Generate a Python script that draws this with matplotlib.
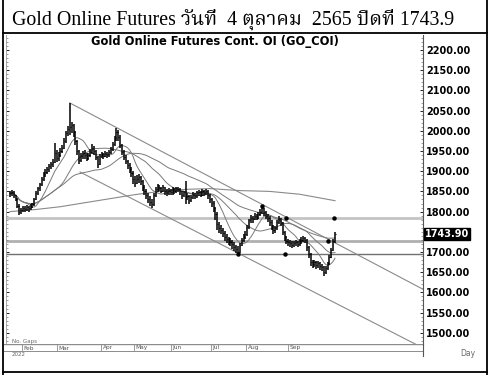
import matplotlib
matplotlib.use("Agg")
import numpy as np
import pandas as pd
import matplotlib.pyplot as plt
from matplotlib import font_manager
from matplotlib.lines import Line2D

# ---------------------------------------------------------------------------
# data (one bar per trading day, Jan 21 .. Oct 4 2022)
# ---------------------------------------------------------------------------
closes = [
    1845, 1848, 1840, 1832, 1815, 1798, 1805, 1810, 1806, 1812,
    1808, 1812, 1818, 1830, 1846, 1858, 1868, 1880, 1892, 1898,
    1905, 1912, 1918, 1924, 1945, 1932, 1940, 1950, 1958, 1975,
    1995, 2005, 2010, 2015, 1998, 1975, 1950, 1928, 1938, 1945,
    1940, 1932, 1940, 1948, 1958, 1950, 1935, 1918, 1938, 1942,
    1938, 1945, 1940, 1948, 1955, 1968, 1982, 1998, 1985, 1965,
    1948, 1935, 1925, 1915, 1905, 1895, 1880, 1872, 1880, 1885,
    1875, 1862, 1852, 1840, 1832, 1825, 1818, 1840, 1855, 1862,
    1858, 1852, 1860, 1850, 1845, 1852, 1848, 1855, 1850, 1858,
    1855, 1850, 1840, 1848, 1835, 1838, 1828, 1835, 1842, 1838,
    1845, 1848, 1842, 1850, 1846, 1852, 1840, 1830, 1822, 1810,
    1795, 1770, 1760, 1755, 1748, 1738, 1732, 1728, 1725, 1720,
    1712, 1708, 1700, 1718, 1730, 1738, 1745, 1762, 1778, 1785,
    1782, 1790, 1785, 1795, 1800, 1808, 1798, 1790, 1785, 1775,
    1765, 1755, 1760, 1775, 1782, 1772, 1750, 1738, 1728, 1725,
    1722, 1718, 1722, 1725, 1720, 1726, 1730, 1735, 1730, 1712,
    1695, 1675, 1670, 1675, 1668, 1672, 1665, 1662, 1650, 1660,
    1672, 1688, 1705, 1728, 1743.9,
]
lows = [
    1836, 1838, 1834, 1826, 1808, 1792, 1794, 1800, 1798, 1802,
    1800, 1804, 1808, 1815, 1828, 1842, 1852, 1864, 1876, 1886,
    1892, 1898, 1905, 1910, 1920, 1922, 1926, 1935, 1944, 1955,
    1970, 1988, 1990, 1995, 1985, 1965, 1940, 1918, 1922, 1930,
    1930, 1925, 1928, 1935, 1942, 1940, 1928, 1908, 1915, 1932,
    1930, 1934, 1932, 1936, 1942, 1950, 1962, 1975, 1975, 1958,
    1940, 1928, 1918, 1906, 1895, 1885, 1868, 1862, 1868, 1872,
    1866, 1852, 1842, 1830, 1822, 1815, 1808, 1815, 1835, 1848,
    1850, 1845, 1848, 1842, 1838, 1840, 1840, 1842, 1843, 1845,
    1848, 1842, 1832, 1835, 1818, 1828, 1820, 1824, 1830, 1830,
    1834, 1838, 1835, 1838, 1838, 1840, 1832, 1822, 1812, 1800,
    1780, 1755, 1748, 1745, 1738, 1728, 1722, 1718, 1715, 1708,
    1702, 1698, 1690, 1698, 1715, 1725, 1732, 1740, 1758, 1772,
    1772, 1778, 1778, 1782, 1790, 1795, 1790, 1782, 1775, 1765,
    1755, 1745, 1748, 1755, 1770, 1765, 1742, 1728, 1720, 1715,
    1712, 1710, 1712, 1716, 1712, 1715, 1720, 1724, 1722, 1702,
    1685, 1665, 1660, 1663, 1658, 1660, 1655, 1652, 1641, 1645,
    1655, 1668, 1685, 1702, 1722,
]
highs = [
    1852, 1854, 1850, 1842, 1834, 1818, 1810, 1815, 1814, 1816,
    1815, 1818, 1822, 1834, 1850, 1862, 1872, 1886, 1898, 1905,
    1910, 1918, 1922, 1930, 1970, 1952, 1948, 1958, 1965, 1982,
    2000, 2012, 2069, 2022, 2018, 2000, 1978, 1952, 1945, 1950,
    1952, 1945, 1946, 1955, 1968, 1962, 1952, 1938, 1942, 1948,
    1946, 1950, 1948, 1952, 1960, 1972, 1988, 2007, 2002, 1990,
    1968, 1952, 1940, 1928, 1920, 1910, 1900, 1888, 1890, 1892,
    1888, 1878, 1866, 1856, 1845, 1838, 1830, 1845, 1860, 1868,
    1866, 1862, 1865, 1862, 1855, 1858, 1856, 1860, 1858, 1862,
    1862, 1858, 1852, 1852, 1875, 1845, 1840, 1840, 1848, 1846,
    1850, 1854, 1852, 1855, 1854, 1856, 1854, 1844, 1834, 1826,
    1812, 1798, 1775, 1766, 1760, 1752, 1745, 1738, 1735, 1730,
    1724, 1718, 1715, 1722, 1735, 1745, 1752, 1768, 1782, 1792,
    1790, 1796, 1794, 1800, 1806, 1813, 1810, 1802, 1795, 1788,
    1778, 1768, 1765, 1780, 1788, 1785, 1775, 1752, 1740, 1732,
    1730, 1726, 1728, 1730, 1728, 1732, 1736, 1740, 1738, 1732,
    1715, 1698, 1680, 1680, 1678, 1678, 1675, 1670, 1666, 1665,
    1676, 1692, 1710, 1732, 1750,
]

# long moving average as drawn on the chart (bar index, price)
ma200_idx = [0, 13.4, 26.8, 40.1, 53.5, 66.9, 80.3, 93.7, 107, 123, 139, 155, 174]
ma200_val = [1800, 1805, 1812, 1822, 1832, 1842, 1850, 1855, 1857, 1852, 1850, 1843, 1827]

# channel lines (bar index, price) end points
upper_x = [32, 221]
upper_y = [2069, 1608]
lower_x = [37.5, 217]
lower_y = [1898, 1472]

# support / resistance levels
levels = [1783, 1728, 1695]
level_colors = ["#c4c4c4", "#b0b0b0", "#707070"]
level_widths = [2.0, 2.0, 1.0]

# pivot dots
dot_x = [135, 147.8, 173.4, 170, 147, 122]
dot_y = [1815, 1783, 1783, 1728, 1695, 1695]

months = ["Feb", "Mar", "Apr", "May", "Jun", "Jul", "Aug", "Sep"]
month_idx = [6.3, 25.3, 48.7, 66.5, 86.2, 107.6, 126.5, 149]

price_ticks = [1500, 1550, 1600, 1650, 1700, 1800, 1850, 1900, 1950,
               2000, 2050, 2100, 2150, 2200]
last_close = 1743.90

# ---------------------------------------------------------------------------
W, H = 489, 375
PX = 1.868  # pixels per bar


def fx(x):
    return x / W


def fy(y):
    return 1 - y / H


def price_at(y):
    return 2200 - (y - 50) * 50 / 20.2


avail = {f.name for f in font_manager.fontManager.ttflist}
thai_font = next((n for n in ["Noto Serif Thai", "Taviraj", "Trirong", "Pridi",
                               "Sarabun", "Noto Sans Thai", "Athiti"] if n in avail), "Athiti")

fig = plt.figure(figsize=(W / 100, H / 100), dpi=100)

left, right, top, bottom = 6, 423, 35, 344
ax = fig.add_axes([fx(left), fy(bottom), fx(right) - fx(left), fy(top) - fy(bottom)])
ax.set_xlim((left - 10) / PX, (right - 10) / PX)
ax.set_ylim(price_at(bottom), price_at(top))

n = len(closes)
idx = np.arange(n)

for lv, c, lw in zip(levels, level_colors, level_widths):
    ax.axhline(lv, color=c, lw=lw, zorder=1)

ax.plot(upper_x, upper_y, color="#8a8a8a", lw=0.8, zorder=2)
ax.plot(lower_x, lower_y, color="#8a8a8a", lw=0.8, zorder=2)
ax.plot(ma200_idx, ma200_val, color="#8a8a8a", lw=0.8, zorder=2)

s = pd.Series(closes)
for w in (10, 25, 50):
    ax.plot(idx, s.rolling(w, min_periods=1).mean(), color="#7a7a7a", lw=0.7, zorder=3)

ax.vlines(idx, lows, highs, color="black", lw=1.1, zorder=4)
ax.hlines(closes, idx, idx + 0.6, color="black", lw=0.8, zorder=4)

ax.plot(dot_x, dot_y, "o", color="black", ms=2.2, zorder=5)

# axes look
for side in ("top", "bottom"):
    ax.spines[side].set_visible(False)
ax.spines["left"].set_color("#9a9a9a")
ax.spines["left"].set_linewidth(0.6)
ax.spines["right"].set_color("#555555")
ax.spines["right"].set_linewidth(0.8)
ax.set_xticks([])
ax.yaxis.tick_right()
ax.set_yticks(price_ticks)
ax.set_yticklabels([f"{v:.2f}" for v in price_ticks])
ax.set_yticks(np.arange(1480, 2240, 10), minor=True)
ax.tick_params(axis="y", which="major", length=2, width=0.6, pad=2,
               labelsize=7, left=True, right=True, direction="in")
ax.tick_params(axis="y", which="minor", length=1.6, width=0.5,
               left=True, right=True, direction="in", colors="#777777")
for lab in ax.get_yticklabels():
    lab.set_fontweight("bold")

ax.text(1.005, (last_close - ax.get_ylim()[0]) / (ax.get_ylim()[1] - ax.get_ylim()[0]),
        f"{last_close:.2f}", transform=ax.transAxes, fontsize=7, fontweight="bold",
        color="white", va="center", ha="left",
        bbox=dict(boxstyle="square,pad=0.08", fc="black", ec="black"))

fig.text(fx(215), fy(42), "Gold Online Futures Cont. OI (GO_COI)", ha="center",
         va="center", fontsize=8.3, fontweight="bold")

# month strip under the price pane
strip = fig.add_axes([fx(4), fy(352), fx(right) - fx(4), fy(344) - fy(352)])
strip.set_xlim(ax.get_xlim()[0] - 2 / PX, ax.get_xlim()[1])
strip.set_ylim(0, 1)
strip.axis("off")
strip.axhline(1, color="#8c8c8c", lw=1.0)
strip.axhline(0, color="#8c8c8c", lw=1.4)
for m, p in zip(months, month_idx):
    strip.vlines(p, 0, 1, color="#8c8c8c", lw=0.6)
    strip.text(p + 0.8, 0.5, m, fontsize=4.2, color="#555555", va="center", ha="left")

fig.text(fx(12), fy(341), "No. Gaps", fontsize=4, color="#666666", va="center")
fig.text(fx(12), fy(355), "2022", fontsize=4, color="#666666", va="center")
fig.text(fx(460), fy(354), "Day", fontsize=5.5, color="#666666", va="center")

# right axis line continues into the strip
fig.add_artist(Line2D([fx(right), fx(right)], [fy(344), fy(356)], color="#555555", lw=0.8))

# outer frame of the picture
frame = dict(color="black", lw=1.3)
fig.add_artist(Line2D([fx(3), fx(3)], [0, 1], **frame))
fig.add_artist(Line2D([fx(487), fx(487)], [0, 1], **frame))
fig.add_artist(Line2D([fx(3), fx(487)], [fy(33), fy(33)], **frame))
fig.add_artist(Line2D([fx(3), fx(487)], [fy(372), fy(372)], **frame))

fig.text(fx(12), fy(25), "Gold Online Futures วันที่  4 ตุลาคม  2565 ปิดที่ 1743.9",
         family=["Liberation Serif", thai_font], fontsize=14.3, va="baseline", ha="left")

fig.savefig("out.png", dpi=100)
